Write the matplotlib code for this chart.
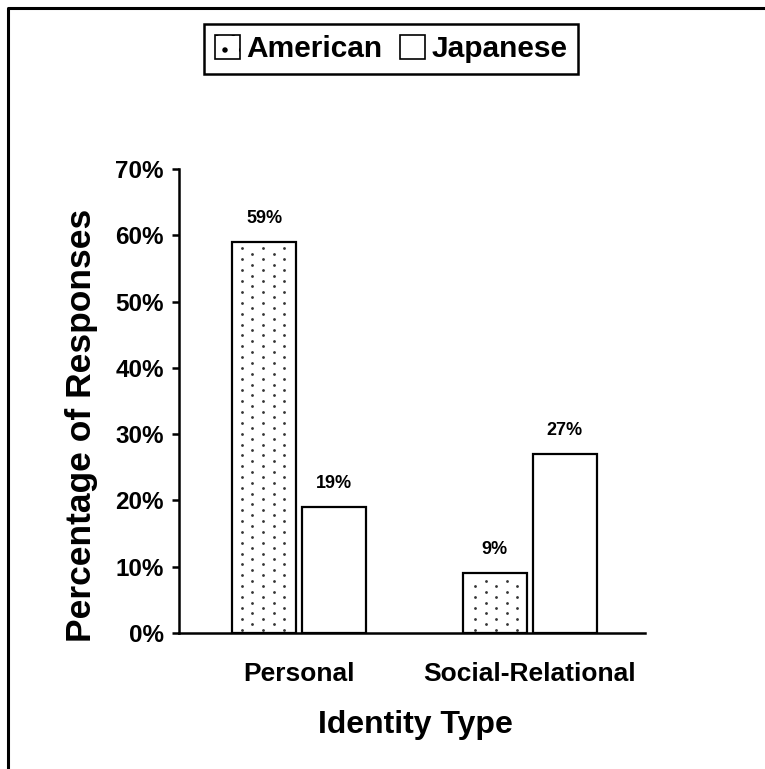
import numpy as np
import matplotlib
matplotlib.use("Agg")
import matplotlib.pyplot as plt
from matplotlib.lines import Line2D
from matplotlib.patches import Patch

plt.rcParams['font.family'] = ['Liberation Sans', 'DejaVu Sans']
plt.rcParams['font.weight'] = 'bold'
plt.rcParams['hatch.color'] = '#333333'
plt.rcParams['hatch.linewidth'] = 1.5

categories = ["Personal", "Social-Relational"]
series_names = ["American", "Japanese"]
american = [59, 9]
japanese = [19, 27]
yticks = [0, 10, 20, 30, 40, 50, 60, 70]

W, H = 765, 769
fig = plt.figure(figsize=(W / 100, H / 100), dpi=100)
ax = fig.add_axes([179 / W, 1 - 633 / H, 466 / W, 464 / H])

x = np.arange(len(categories))
bw = 0.277
off = 0.1515
bars_a = ax.bar(x - off, american, bw, facecolor='white', edgecolor='black',
                linewidth=1.6, zorder=2)
bars_j = ax.bar(x + off, japanese, bw, facecolor='white', edgecolor='black',
                linewidth=1.6, zorder=2)

ax.set_xlim(-0.52, 1.5)
ax.set_ylim(0, 70)
ax.set_yticks(yticks)
ax.set_yticklabels([f"{t}%" for t in yticks])
ax.set_xticks(x)
ax.set_xticklabels(categories)

for s in ['top', 'right']:
    ax.spines[s].set_visible(False)
for s in ['left', 'bottom']:
    ax.spines[s].set_linewidth(1.8)
ax.tick_params(axis='y', direction='out', length=5, width=1.8, pad=6, labelsize=17.5)
ax.tick_params(axis='x', length=0, pad=21, labelsize=19)

# stipple texture for the American bars: a staggered pixel grid clipped to each bar
fig.canvas.draw()
inv = ax.transData.inverted()
for bar in bars_a:
    (px0, py0), (px1, py1) = ax.transData.transform(
        [(bar.get_x(), 0), (bar.get_x() + bar.get_width(), bar.get_height())])
    pts_px = []
    for j in range(-60, 120):
        gy = H - (248.3 + 5.45 * j)
        if not (py0 + 2 < gy < py1 - 2):
            continue
        shift = 10.6 if j % 2 else 0.0
        for k in range(-20, 40):
            gx = 241.7 + shift + 21.2 * k
            if px0 + 3 < gx < px1 - 3:
                pts_px.append((gx, gy))
    pts = inv.transform(np.array(pts_px))
    ax.plot(pts[:, 0], pts[:, 1], 'o', ms=2.0, color='#333333', mec='none',
            zorder=2.5)

for bars, vals in [(bars_a, american), (bars_j, japanese)]:
    for b, v in zip(bars, vals):
        ax.annotate(f"{v}%", (b.get_x() + b.get_width() / 2, v),
                    xytext=(0, 11), textcoords='offset points',
                    ha='center', va='bottom', fontsize=13, fontweight='bold')

fig.text(82 / W, 1 - 425 / H, "Percentage of Responses", rotation=90,
         ha='center', va='center', fontsize=25.5, fontweight='bold')
fig.text(415 / W, 1 - 725 / H, "Identity Type", ha='center', va='center',
         fontsize=23, fontweight='bold')

handles = [Patch(facecolor='white', edgecolor='black', hatch='.', linewidth=1.2),
           Patch(facecolor='white', edgecolor='black', linewidth=1.2)]
leg = fig.legend(handles, series_names, loc='center',
                 bbox_to_anchor=(391 / W, 1 - 49 / H), ncol=2,
                 prop={'size': 21.5, 'weight': 'bold'}, frameon=True,
                 fancybox=False, framealpha=1, handlelength=0.85,
                 handleheight=0.85, handletextpad=0.2, columnspacing=0.6,
                 borderpad=0.35, borderaxespad=0)
leg.get_frame().set_edgecolor('black')
leg.get_frame().set_linewidth(1.8)

# outer frame along the top and left edges
fig.add_artist(Line2D([7.5 / W, 7.5 / W, 1.0], [0.0, 1 - 7.5 / H, 1 - 7.5 / H],
                      transform=fig.transFigure, color='black', linewidth=2.2))

fig.savefig("out.png", dpi=100)
